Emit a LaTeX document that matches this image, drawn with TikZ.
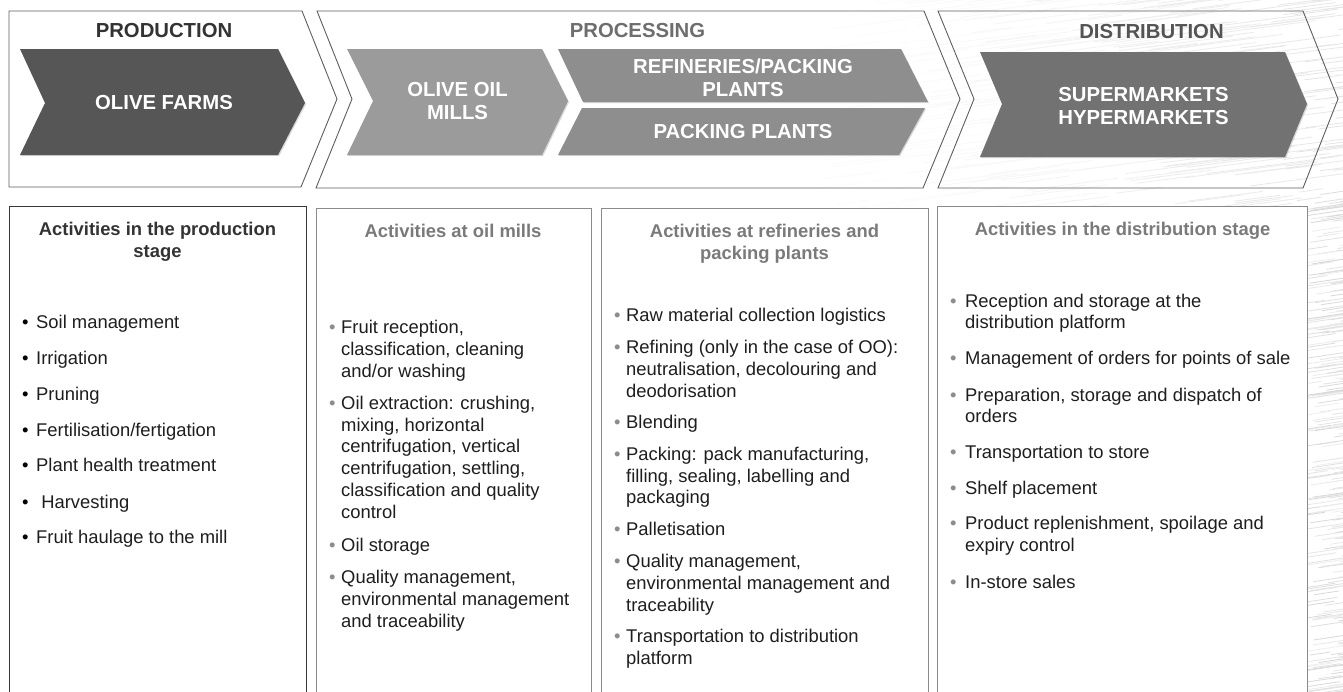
\documentclass[tikz,border=0pt]{standalone}
\usepackage{fontspec}
\setmainfont{Liberation Sans}
\usetikzlibrary{shadows}

\definecolor{farmfill}{HTML}{565656}
\definecolor{millfill}{HTML}{9B9B9B}
\definecolor{refinefill}{HTML}{8E8E8E}
\definecolor{marketfill}{HTML}{727272}
\definecolor{outline}{HTML}{5E5E5E}
\definecolor{boxline}{HTML}{8A8A8A}
\definecolor{titlegray}{HTML}{7A7A7A}
\definecolor{bodytext}{HTML}{1E1E1E}

% bullet entry: bullet column width, bullet colour, lines (continued with \\ & ...)
\newcommand\bitem[3]{\begin{tabular}[t]{@{}p{#1}@{}l@{}}\textcolor{#2}{\textbullet}&#3\end{tabular}}

\tikzset{
  stage/.style={draw=outline, line width=0.9pt, line join=miter},
  inner chevron/.style={draw=none, drop shadow={opacity=0.3, shadow xshift=1pt, shadow yshift=-1.2pt}},
  hdr/.style={font=\fontsize{20.3}{23}\selectfont\bfseries, inner sep=0pt, align=center},
  chevtxt/.style={hdr, text=white},
  panel/.style={fill=white, line width=1pt},
  ttl/.style={font=\fontsize{18.4}{22}\selectfont\bfseries, inner sep=0pt, align=center, anchor=base},
  itm/.style={font=\fontsize{18.4}{21.8}\selectfont, inner sep=0pt, anchor=base west, text=bodytext},
}

\begin{document}
\begin{tikzpicture}[x=1pt, y=-1pt]
\clip (0,0) rectangle (1343,691);
\fill[white] (0,0) rectangle (1343,691);

% brushed background strokes on the right
\pgfmathsetseed{11}
\foreach \k in {1,...,320} {
  \pgfmathsetmacro\xa{820+rnd*540}
  \pgfmathsetmacro\ya{rnd*215}
  \pgfmathsetmacro\len{30+rnd*110}
  \pgfmathsetmacro\shade{max(1,11*(\xa-820)/520)}
  \draw[line width=0.8pt, draw=black!\shade] (\xa,\ya) -- ++(\len,-0.13*\len);
}
\foreach \k in {1,...,260} {
  \pgfmathsetmacro\xa{1295+rnd*50}
  \pgfmathsetmacro\ya{190+rnd*520}
  \pgfmathsetmacro\len{20+rnd*45}
  \pgfmathsetmacro\shade{6+rnd*10}
  \draw[line width=0.8pt, draw=black!\shade] (\xa,\ya) -- ++(\len,-0.15*\len);
}

% stage chevrons
\draw[stage] (9,11) -- (302,11) -- (337,99) -- (301,187) -- (9,187) -- cycle;
\draw[stage] (317,11) -- (924,11) -- (960,99) -- (923,188) -- (316,188) -- (352,99) -- cycle;
\draw[stage] (938,11) -- (1303,11) -- (1338,99) -- (1303,188) -- (938,188) -- (974,99) -- cycle;

% actor chevrons
\fill[inner chevron, farmfill] (20,49) -- (278,49) -- (305,103) -- (278,155) -- (20,155) -- (45,103) -- cycle;
\fill[inner chevron, millfill] (347,49) -- (542,49) -- (568,101) -- (542,155) -- (347,155) -- (373,101) -- cycle;
\fill[inner chevron, refinefill] (558,49) -- (901,49) -- (928,102) -- (583,102) -- cycle;
\fill[inner chevron, refinefill] (582,108) -- (925,108) -- (899,155) -- (558,155) -- cycle;
\fill[inner chevron, marketfill] (980,52) -- (1285,52) -- (1307,104) -- (1285,157) -- (980,157) -- (1002,104) -- cycle;

% stage headings
\node[hdr, text=black!80] (production) at (164,31) {PRODUCTION};
\node[hdr, text=black!57] (processing) at (637.5,31) {PROCESSING};
\node[hdr, text=black!67] (distribution) at (1151.5,32) {DISTRIBUTION};

% actor labels
\node[chevtxt] (farms) at (164,103) {OLIVE FARMS};
\node[chevtxt] (mills) at (457.5,101) {OLIVE OIL\\MILLS};
\node[chevtxt] (refineries) at (743,77.5) {REFINERIES/PACKING\\PLANTS};
\node[chevtxt] (packers) at (743,132) {PACKING PLANTS};
\node[chevtxt] (markets) at (1143.5,106.5) {SUPERMARKETS\\HYPERMARKETS};

% activity panels
\draw[panel, draw=black!78] (9,206) rectangle (306,720);
\draw[panel, draw=boxline] (316,208) rectangle (591,720);
\draw[panel, draw=boxline] (601,208) rectangle (928,720);
\draw[panel, draw=boxline] (937,206) rectangle (1307,720);

% panel titles (base = last line)
\node[ttl, text=black!80] (t1) at (157.5,257) {Activities in the production\\stage};
\node[ttl, text=titlegray] (t2) at (453,237) {Activities at oil mills};
\node[ttl, text=titlegray] (t3) at (764.5,259) {Activities at refineries and\\packing plants};
\node[ttl, text=titlegray] (t4) at (1122.5,235) {Activities in the distribution stage};

% production activities
\node[itm] (p1) at (22,328.7) {\bitem{14pt}{black}{Soil management}};
\node[itm] (p2) at (22,364.3) {\bitem{14pt}{black}{Irrigation}};
\node[itm] (p3) at (22,400.3) {\bitem{14pt}{black}{Pruning}};
\node[itm] (p4) at (22,436) {\bitem{14pt}{black}{Fertilisation/fertigation}};
\node[itm] (p5) at (22,471.3) {\bitem{14pt}{black}{Plant health treatment}};
\node[itm] (p6) at (22,508) {\bitem{14pt}{black}{\ Harvesting}};
\node[itm] (p7) at (22,543) {\bitem{14pt}{black}{Fruit haulage to the mill}};

% oil mill activities
\node[itm] (m1) at (329,333.7) {\bitem{12pt}{black!45}{Fruit reception,\\&classification, cleaning\\&and/or washing}};
\node[itm] (m2) at (329,409.3) {\bitem{12pt}{black!45}{Oil extraction: crushing,\\&mixing, horizontal\\&centrifugation, vertical\\&centrifugation, settling,\\&classification and quality\\&control}};
\node[itm] (m3) at (329,551.3) {\bitem{12pt}{black!45}{Oil storage}};
\node[itm] (m4) at (329,583.7) {\bitem{12pt}{black!45}{Quality management,\\&environmental management\\&and traceability}};

% refinery and packing activities
\node[itm] (r1) at (614,321) {\bitem{12pt}{black!45}{Raw material collection logistics}};
\node[itm] (r2) at (614,353.7) {\bitem{12pt}{black!45}{Refining (only in the case of OO):\\&neutralisation, decolouring and\\&deodorisation}};
\node[itm] (r3) at (614,428.7) {\bitem{12pt}{black!45}{Blending}};
\node[itm] (r4) at (614,460.3) {\bitem{12pt}{black!45}{Packing: pack manufacturing,\\&filling, sealing, labelling and\\&packaging}};
\node[itm] (r5) at (614,535.3) {\bitem{12pt}{black!45}{Palletisation}};
\node[itm] (r6) at (614,567.7) {\bitem{12pt}{black!45}{Quality management,\\&environmental management and\\&traceability}};
\node[itm] (r7) at (614,642.7) {\bitem{12pt}{black!45}{Transportation to distribution\\&platform}};

% distribution activities
\node[itm] (d1) at (950,307) {\bitem{15pt}{black!45}{Reception and storage at the\\&distribution platform}};
\node[itm] (d2) at (950,364.3) {\bitem{15pt}{black!45}{Management of orders for points of sale}};
\node[itm] (d3) at (950,401) {\bitem{15pt}{black!45}{Preparation, storage and dispatch of\\&orders}};
\node[itm] (d4) at (950,458) {\bitem{15pt}{black!45}{Transportation to store}};
\node[itm] (d5) at (950,494.7) {\bitem{15pt}{black!45}{Shelf placement}};
\node[itm] (d6) at (950,529.7) {\bitem{15pt}{black!45}{Product replenishment, spoilage and\\&expiry control}};
\node[itm] (d7) at (950,588) {\bitem{15pt}{black!45}{In-store sales}};
\end{tikzpicture}
\end{document}
